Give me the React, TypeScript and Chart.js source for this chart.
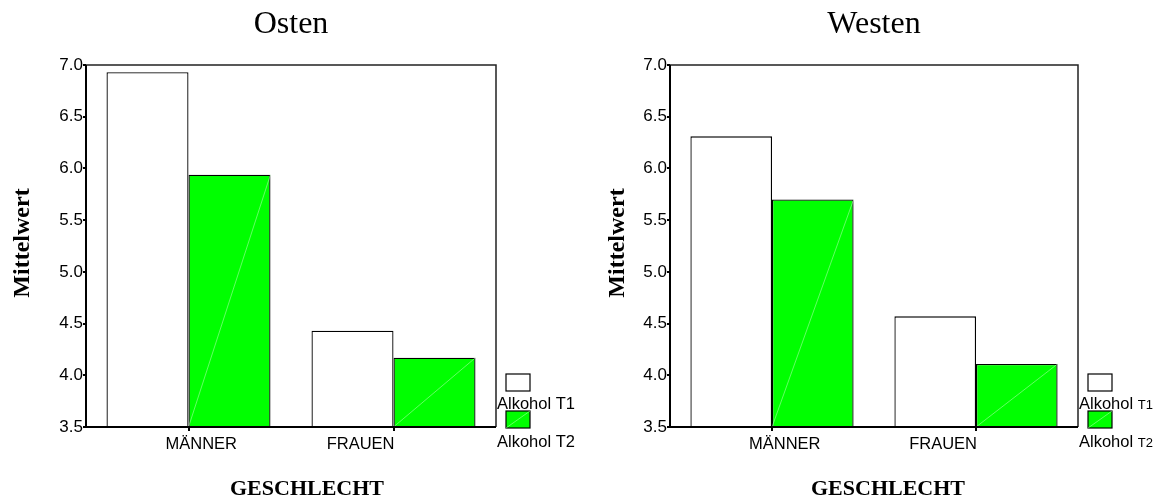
import React, { useEffect, useRef } from "react";
import { Chart, registerables } from "chart.js";

Chart.register(...registerables);

const categories = ["MÄNNER", "FRAUEN"];
const seriesNames = ["Alkohol T1", "Alkohol T2"];
const ostenT1 = [6.93, 4.43];
const ostenT2 = [5.94, 4.17];
const westenT1 = [6.31, 4.57];
const westenT2 = [5.7, 4.11];
const yMin = 3.5;
const yMax = 7.0;
const yStep = 0.5;

const SANS = "'Liberation Sans', Arial, sans-serif";
const SERIF = "'Liberation Serif', 'Times New Roman', serif";

type PanelProps = {
  title: string;
  t1: number[];
  t2: number[];
  width: number;
  axisWidth: number;
  padRight: number;
  yTitleX: number;
  xTitleX: number;
  smallLegendSuffix: boolean;
};

function Panel(p: PanelProps) {
  const ref = useRef<HTMLCanvasElement | null>(null);
  useEffect(() => {
    if (!ref.current) return;
    const deco = {
      id: "deco",
      afterDatasetsDraw(chart: any) {
        const ctx = chart.ctx;
        const a = chart.chartArea;
        const meta = chart.getDatasetMeta(1);
        ctx.save();
        ctx.strokeStyle = "rgba(200,255,200,0.7)";
        ctx.lineWidth = 0.7;
        meta.data.forEach((el: any) => {
          const pr = el.getProps(["x", "y", "width", "base"], true);
          const left = pr.x - pr.width / 2;
          const right = pr.x + pr.width / 2;
          const bottom = Math.min(pr.base, a.bottom);
          ctx.beginPath();
          ctx.moveTo(left, bottom);
          ctx.lineTo(right, pr.y);
          ctx.stroke();
        });
        ctx.restore();
      },
      afterDraw(chart: any) {
        const ctx = chart.ctx;
        const a = chart.chartArea;
        const xs = chart.scales.x;
        ctx.save();
        // frame
        ctx.strokeStyle = "#222";
        ctx.lineWidth = 1.5;
        ctx.beginPath();
        ctx.moveTo(a.left, a.top);
        ctx.lineTo(a.right, a.top);
        ctx.lineTo(a.right, a.bottom);
        ctx.stroke();
        ctx.strokeStyle = "#000";
        ctx.lineWidth = 2;
        ctx.beginPath();
        ctx.moveTo(a.left, a.top);
        ctx.lineTo(a.left, a.bottom);
        ctx.lineTo(a.right, a.bottom);
        ctx.stroke();

        // x category labels
        ctx.fillStyle = "#000";
        ctx.font = "16.5px " + SANS;
        ctx.textBaseline = "alphabetic";
        categories.forEach((c, i) => {
          const px = xs.getPixelForValue(i);
          if (i === 0) {
            ctx.textAlign = "left";
            ctx.fillText(c, px - 23, 449);
          } else {
            ctx.textAlign = "right";
            ctx.fillText(c, px + 1, 449);
          }
        });

        // title centred over plot area
        ctx.textAlign = "center";
        ctx.textBaseline = "alphabetic";
        ctx.font = "32px " + SERIF;
        ctx.fillText(p.title, (a.left + a.right) / 2, 33);

        // y title
        ctx.save();
        ctx.translate(p.yTitleX, 243);
        ctx.rotate(-Math.PI / 2);
        ctx.textBaseline = "middle";
        ctx.font = "bold 24px " + SERIF;
        ctx.fillText("Mittelwert", 0, 0);
        ctx.restore();

        // x title
        ctx.textBaseline = "alphabetic";
        ctx.font = "bold 22px " + SERIF;
        ctx.fillText("GESCHLECHT", p.xTitleX, 495);

        // legend
        const bx = a.right + 10;
        ctx.lineWidth = 1.2;
        ctx.strokeStyle = "#000";
        ctx.fillStyle = "#fff";
        ctx.fillRect(bx, 374, 24, 17);
        ctx.strokeRect(bx, 374, 24, 17);
        ctx.fillStyle = "#00ff00";
        ctx.fillRect(bx, 411, 24, 17);
        ctx.strokeRect(bx, 411, 24, 17);
        ctx.strokeStyle = "rgba(200,255,200,0.7)";
        ctx.lineWidth = 0.7;
        ctx.beginPath();
        ctx.moveTo(bx, 428);
        ctx.lineTo(bx + 24, 411);
        ctx.stroke();

        ctx.fillStyle = "#000";
        ctx.textAlign = "left";
        ctx.textBaseline = "alphabetic";
        const lx = a.right + 1;
        const fBig = "16.5px " + SANS;
        const fSmall = "13px " + SANS;
        const ys = [409, 447];
        seriesNames.forEach((name, i) => {
          if (p.smallLegendSuffix) {
            const parts = name.split(" ");
            ctx.font = fBig;
            const first = parts[0] + " ";
            ctx.fillText(first, lx, ys[i]);
            const w = ctx.measureText(first).width;
            ctx.font = fSmall;
            ctx.fillText(parts[1], lx + w, ys[i]);
          } else {
            ctx.font = fBig;
            ctx.fillText(name, lx, ys[i]);
          }
        });
        ctx.restore();
      },
    };

    const chart = new Chart(ref.current, {
      type: "bar",
      data: {
        labels: categories,
        datasets: [
          {
            label: seriesNames[0],
            data: p.t1,
            backgroundColor: "#ffffff",
            borderColor: "#000000",
            borderWidth: 1.3,
            categoryPercentage: 0.8,
            barPercentage: 1.0,
          },
          {
            label: seriesNames[1],
            data: p.t2,
            backgroundColor: "#00ff00",
            borderColor: "#000000",
            borderWidth: 1.3,
            categoryPercentage: 0.8,
            barPercentage: 1.0,
          },
        ],
      },
      options: {
        animation: false,
        responsive: false,
        maintainAspectRatio: false,
        layout: { padding: { left: 0, top: 65, right: p.padRight, bottom: 0 } },
        plugins: {
          legend: { display: false },
          title: { display: false },
          tooltip: { enabled: false },
        },
        scales: {
          x: {
            offset: true,
            grid: {
              offset: false,
              drawOnChartArea: false,
              drawTicks: true,
              tickLength: 4,
              color: "#000",
              lineWidth: 2,
            },
            border: { display: false },
            ticks: { display: false },
            afterFit: (s: any) => {
              s.height = 71;
            },
          },
          y: {
            min: yMin,
            max: yMax,
            grid: {
              drawOnChartArea: false,
              drawTicks: true,
              tickLength: 3,
              color: "#000",
              lineWidth: 2,
            },
            border: { display: false },
            ticks: {
              stepSize: yStep,
              color: "#000",
              padding: 0,
              font: { family: SANS, size: 17 },
              callback: (v: any) => Number(v).toFixed(1),
            },
            afterFit: (s: any) => {
              s.width = p.axisWidth;
            },
          },
        },
      },
      plugins: [deco],
    } as any);
    return () => chart.destroy();
  }, []);
  return (
    <canvas
      ref={ref}
      width={p.width}
      height={498}
      style={{ display: "block", width: p.width, height: 498 }}
    />
  );
}

export default function App() {
  return (
    <div
      style={{
        position: "absolute",
        left: 0,
        top: 0,
        width: 1163,
        height: 498,
        background: "#fff",
        display: "flex",
      }}
    >
      <Panel
        title="Osten"
        t1={ostenT1}
        t2={ostenT2}
        width={581}
        axisWidth={86}
        padRight={581 - 496}
        yTitleX={23}
        xTitleX={307}
        smallLegendSuffix={false}
      />
      <Panel
        title="Westen"
        t1={westenT1}
        t2={westenT2}
        width={582}
        axisWidth={89}
        padRight={582 - 497}
        yTitleX={37}
        xTitleX={307}
        smallLegendSuffix={true}
      />
    </div>
  );
}
